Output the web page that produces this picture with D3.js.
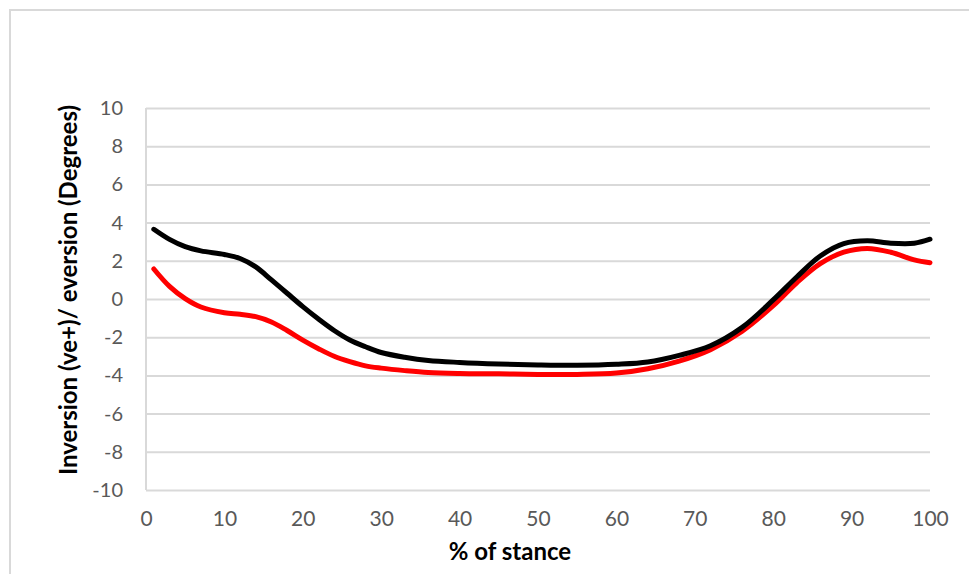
<!DOCTYPE html>
<html>
<head>
<meta charset="utf-8">
<script src="https://cdn.jsdelivr.net/npm/d3@7"></script>
<style>
  html, body { margin: 0; padding: 0; background: #fff; }
  svg { display: block; }
</style>
</head>
<body>
<svg id="chart" width="969" height="574"></svg>
<script>
// Percent of stance at which each curve is sampled
const stance = [1, 3, 5, 7, 10, 12, 14, 16, 18, 20, 22, 24, 26, 28, 30, 33, 36, 40, 45, 50,
                55, 60, 64, 68, 72, 76, 80, 83, 86, 89, 92, 95, 98, 100];

// Inversion (+) / eversion (-) angle, degrees
const blackSeries = [3.65, 3.12, 2.74, 2.52, 2.33, 2.12, 1.68, 1.0, 0.3, -0.4, -1.05, -1.65, -2.15, -2.5,
                     -2.8, -3.05, -3.22, -3.32, -3.4, -3.45, -3.47, -3.42, -3.3, -2.95, -2.45, -1.5,
                     -0.05, 1.15, 2.25, 2.9, 3.05, 2.92, 2.92, 3.13];
const redSeries = [1.57, 0.66, 0.02, -0.42, -0.72, -0.8, -0.92, -1.2, -1.65, -2.15, -2.6, -3.0, -3.28,
                   -3.5, -3.62, -3.75, -3.85, -3.9, -3.92, -3.95, -3.95, -3.88, -3.65, -3.25, -2.65,
                   -1.7, -0.35, 0.85, 1.85, 2.45, 2.65, 2.45, 2.05, 1.9];

const xTicks = [0, 10, 20, 30, 40, 50, 60, 70, 80, 90, 100];
const yTicks = [-10, -8, -6, -4, -2, 0, 2, 4, 6, 8, 10];

const xTitle = "% of stance";
const yTitle = "Inversion (ve+)/ eversion (Degrees)";

const svg = d3.select("#chart");
const font = "Lato, 'Open Sans', sans-serif";
const gridColor = "#d9d9d9";
const plainNumber = d => String(d);

// Outer chart frame
svg.append("rect")
  .attr("x", 10).attr("y", 10)
  .attr("width", 970).attr("height", 580)
  .attr("fill", "none")
  .attr("stroke", gridColor)
  .attr("stroke-width", 2);

const plot = { left: 146, right: 930, top: 108, bottom: 490 };

const x = d3.scaleLinear().domain([0, 100]).range([plot.left, plot.right]);
const y = d3.scaleLinear().domain([-10, 10]).range([plot.bottom, plot.top]);

// Horizontal gridlines with value labels
const yAxis = d3.axisLeft(y).tickValues(yTicks).tickFormat(plainNumber)
  .tickSize(-(plot.right - plot.left)).tickPadding(23);
const gy = svg.append("g").attr("transform", `translate(${plot.left},0)`).call(yAxis);
gy.select(".domain").remove();
gy.selectAll(".tick line").attr("stroke", gridColor).attr("stroke-width", 2);
gy.selectAll(".tick text")
  .attr("fill", "#595959")
  .style("font-family", font)
  .style("font-size", "20px");

// Left axis line
svg.append("line")
  .attr("x1", plot.left).attr("x2", plot.left)
  .attr("y1", plot.top).attr("y2", plot.bottom)
  .attr("stroke", gridColor).attr("stroke-width", 2);

// X tick labels
const gx = svg.append("g").attr("transform", `translate(0,${plot.bottom})`)
  .call(d3.axisBottom(x).tickValues(xTicks).tickFormat(plainNumber).tickSize(0).tickPadding(21));
gx.select(".domain").remove();
gx.selectAll(".tick text")
  .attr("fill", "#595959")
  .style("font-family", font)
  .style("font-size", "21px");

// Curves
const line = d3.line()
  .x((d, i) => x(stance[i]))
  .y(d => y(d))
  .curve(d3.curveCatmullRom.alpha(0.5));

svg.append("path")
  .datum(redSeries)
  .attr("d", line)
  .attr("fill", "none")
  .attr("stroke", "#ff0000")
  .attr("stroke-width", 5)
  .attr("stroke-linecap", "round");

svg.append("path")
  .datum(blackSeries)
  .attr("d", line)
  .attr("fill", "none")
  .attr("stroke", "#000000")
  .attr("stroke-width", 5)
  .attr("stroke-linecap", "round");

// Axis titles
svg.append("text")
  .attr("x", 510).attr("y", 560)
  .attr("text-anchor", "middle")
  .style("font-family", font)
  .style("font-weight", "bold")
  .style("font-size", "24px")
  .attr("fill", "#000")
  .text(xTitle);

svg.append("text")
  .attr("transform", "translate(77,290) rotate(-90)")
  .attr("text-anchor", "middle")
  .style("font-family", font)
  .style("font-weight", "bold")
  .style("font-size", "24px")
  .attr("fill", "#000")
  .text(yTitle);
</script>
</body>
</html>
